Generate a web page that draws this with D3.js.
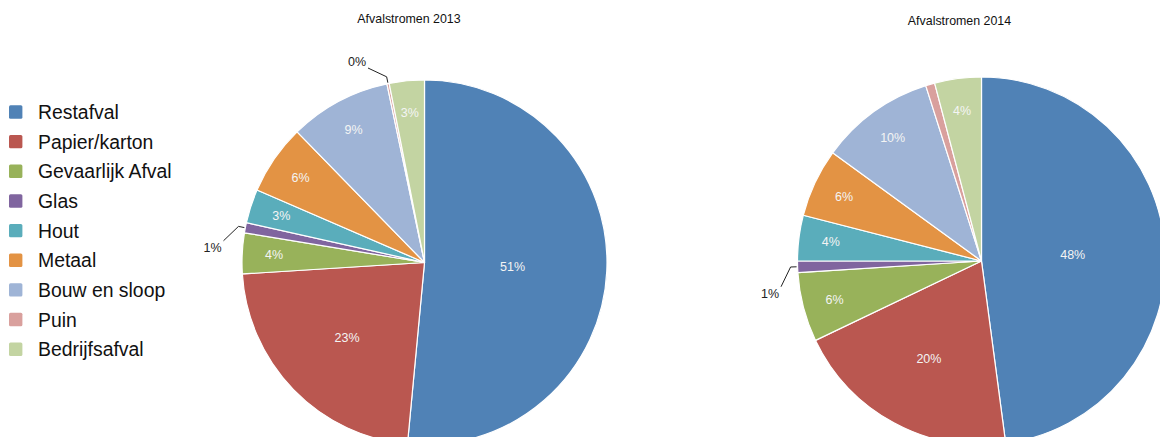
<!DOCTYPE html>
<html>
<head>
<meta charset="utf-8">
<script src="https://cdn.jsdelivr.net/npm/d3@7"></script>
<style>
  html, body { margin: 0; padding: 0; background: #fff; overflow: hidden; }
  svg { display: block; }
  text { font-family: "Liberation Sans", Arial, sans-serif; }
</style>
</head>
<body>
<svg id="chart" width="1160" height="437"></svg>
<script>
// Waste streams (percentage of total) per year
const categories = ["Restafval", "Papier/karton", "Gevaarlijk Afval", "Glas", "Hout",
                    "Metaal", "Bouw en sloop", "Puin", "Bedrijfsafval"];
const colors = ["#5082b6", "#ba5750", "#98b25a", "#80659f", "#5aadbb",
                "#e39344", "#9fb4d6", "#d9a09d", "#c3d4a2"];
const values2013 = [51.49, 22.51, 3.6, 0.9, 3.0, 6.2, 9.0, 0.2, 3.1];
const values2014 = [47.9, 20.0, 6.1, 1.0, 4.0, 6.0, 10.1, 0.8, 4.1];
const titles = ["Afvalstromen 2013", "Afvalstromen 2014"];
// slices drawn without a percentage label
const unlabeled2013 = [];
const unlabeled2014 = ["Puin"];

const svg = d3.select("#chart");
const pct = d3.format(".0%");
const color = d3.scaleOrdinal().domain(categories).range(colors);

// legend
const legend = svg.append("g").attr("transform", "translate(9,112)");
const rows = legend.selectAll("g").data(categories).join("g")
  .attr("transform", (d, i) => `translate(0,${i * 29.65})`);
rows.append("rect").attr("x", 0).attr("y", -6.7).attr("width", 13.4).attr("height", 13.4)
  .attr("rx", 1.5).attr("fill", d => color(d));
rows.append("text").attr("x", 29).attr("dy", "0.36em")
  .attr("font-size", 19.4).attr("fill", "#111").text(d => d);

const charts = [
  { values: values2013, title: titles[0], hide: unlabeled2013, cx: 424.5, cy: 262.5, r: 182.5, tx: 409, ty: 22.5 },
  { values: values2014, title: titles[1], hide: unlabeled2014, cx: 981.5, cy: 261, r: 184, tx: 959.5, ty: 25 }
];

const pie = d3.pie().sort(null).value(d => d.v);

charts.forEach(c => {
  const data = categories.map((k, i) => ({ k, v: c.values[i] }));
  const total = d3.sum(data, d => d.v);
  const arcs = pie(data);
  const arc = d3.arc().innerRadius(0).outerRadius(c.r);

  svg.append("text").attr("x", c.tx).attr("y", c.ty).attr("text-anchor", "middle")
    .attr("font-size", 12.4).attr("fill", "#111").text(c.title);

  const g = svg.append("g").attr("transform", `translate(${c.cx},${c.cy})`);
  g.selectAll("path").data(arcs).join("path")
    .attr("d", arc).attr("fill", d => color(d.data.k))
    .attr("stroke", "#fff").attr("stroke-width", 1.2).attr("stroke-linejoin", "round");

  const polar = (rad, ang) => [rad * Math.sin(ang), -rad * Math.cos(ang)];

  arcs.forEach(a => {
    if (c.hide.includes(a.data.k)) return;
    const f = a.data.v / total;
    const mid = (a.startAngle + a.endAngle) / 2;
    const label = pct(f);
    if (f >= 0.015) {
      // labels inside the slice: narrow slices near the rim, wide ones further in
      const k = f < 0.15 ? 0.825 : 0.6 - (f - 0.2) * 0.37;
      const [x, y] = polar(c.r * k, mid);
      g.append("text").attr("x", x).attr("y", y).attr("dy", "0.36em")
        .attr("text-anchor", "middle").attr("font-size", 12.5).attr("fill", "#f4f4f4")
        .text(label);
    } else {
      // tiny slices: label outside with a leader line
      const [lx, ly] = polar(c.r + 30, mid - 7 * Math.PI / 180);
      const [sx, sy] = polar(c.r + 1, mid);
      const [kx, ky] = polar(c.r + 7, mid);
      const hw = 11, hh = 7;
      const ex = Math.max(lx - hw, Math.min(lx + hw, kx));
      const ey = Math.max(ly - hh, Math.min(ly + hh, ky));
      g.append("path").attr("d", d3.line()([[sx, sy], [kx, ky], [ex, ey]]))
        .attr("fill", "none").attr("stroke", "#222").attr("stroke-width", 1);
      g.append("text").attr("x", lx).attr("y", ly).attr("dy", "0.36em")
        .attr("text-anchor", "middle").attr("font-size", 12.5).attr("fill", "#222")
        .text(label);
    }
  });
});
</script>
</body>
</html>
